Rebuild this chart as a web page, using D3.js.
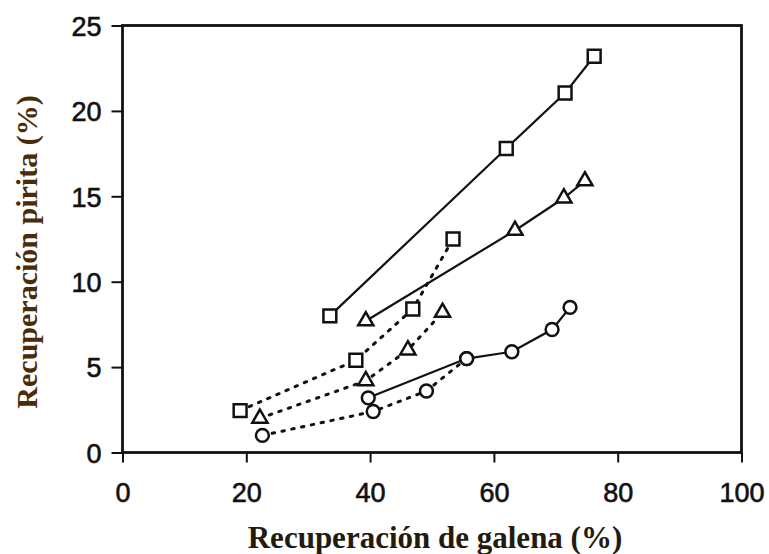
<!DOCTYPE html>
<html>
<head>
<meta charset="utf-8">
<script src="https://cdn.jsdelivr.net/npm/d3@7"></script>
<style>
  html, body { margin: 0; padding: 0; background: #fff; }
  svg { display: block; }
</style>
</head>
<body>
<svg id="chart" width="769" height="554"></svg>
<script>
// Recuperación de galena (%) vs. recuperación de pirita (%)
const xTicks = [0, 20, 40, 60, 80, 100];
const yTicks = [0, 5, 10, 15, 20, 25];

// Solid series
const squaresSolidX = [33.5, 62.0, 71.5, 76.2];
const squaresSolidY = [8.0, 17.8, 21.05, 23.2];
const trianglesSolidX = [39.3, 63.4, 71.3, 74.7];
const trianglesSolidY = [7.7, 13.0, 14.9, 15.9];
const circlesSolidX = [39.7, 55.6, 62.9, 69.4, 72.3];
const circlesSolidY = [3.2, 5.5, 5.9, 7.2, 8.5];

// Dotted series
const squaresDotX = [19.0, 37.7, 46.9, 53.4];
const squaresDotY = [2.45, 5.4, 8.4, 12.5];
const trianglesDotX = [22.2, 39.3, 46.1, 51.7];
const trianglesDotY = [2.0, 4.2, 6.0, 8.2];
const circlesDotX = [22.6, 40.5, 49.1, 55.6];
const circlesDotY = [1.0, 2.4, 3.6, 5.5];

const series = [
  { xs: squaresDotX, ys: squaresDotY, shape: "square", dotted: true },
  { xs: trianglesDotX, ys: trianglesDotY, shape: "triangle", dotted: true },
  { xs: circlesDotX, ys: circlesDotY, shape: "circle", dotted: true },
  { xs: squaresSolidX, ys: squaresSolidY, shape: "square", dotted: false },
  { xs: trianglesSolidX, ys: trianglesSolidY, shape: "triangle", dotted: false },
  { xs: circlesSolidX, ys: circlesSolidY, shape: "circle", dotted: false }
];

const svg = d3.select("#chart");
const margin = { left: 122.5, right: 27.5, top: 25.5, bottom: 101.5 };
const W = 769, H = 554;

const x = d3.scaleLinear().domain([0, 100]).range([margin.left, W - margin.right]);
const y = d3.scaleLinear().domain([0, 25]).range([H - margin.bottom, margin.top]);

const ink = "#111";

// Frame
svg.append("rect")
  .attr("x", x(0)).attr("y", y(25))
  .attr("width", x(100) - x(0)).attr("height", y(0) - y(25))
  .attr("fill", "none").attr("stroke", ink).attr("stroke-width", 2.8);

// Axes
const xAxis = svg.append("g")
  .attr("transform", `translate(0,${y(0)})`)
  .call(d3.axisBottom(x).tickValues(xTicks).tickSize(10).tickPadding(20).tickFormat(d3.format("d")));
const yAxis = svg.append("g")
  .attr("transform", `translate(${x(0)},0)`)
  .call(d3.axisLeft(y).tickValues(yTicks).tickSize(11).tickPadding(10).tickFormat(d3.format("d")));

[xAxis, yAxis].forEach(g => {
  g.select(".domain").remove();
  g.selectAll(".tick line").attr("stroke", ink).attr("stroke-width", 2);
  g.selectAll(".tick text")
    .attr("fill", ink)
    .attr("stroke", ink)
    .attr("stroke-width", 0.6)
    .style("font-family", "Liberation Sans, Arial, sans-serif")
    .style("font-size", "27px");
});
yAxis.selectAll(".tick text").attr("dy", "0.36em");

// Lines
const line = d3.line().x(d => x(d[0])).y(d => y(d[1]));
series.forEach(s => {
  const pts = s.xs.map((v, i) => [v, s.ys[i]]);
  svg.append("path")
    .datum(pts)
    .attr("d", line)
    .attr("fill", "none")
    .attr("stroke", ink)
    .attr("stroke-width", s.dotted ? 3 : 2.2)
    .attr("stroke-dasharray", s.dotted ? "2.5 7.5" : null)
    .attr("stroke-linecap", s.dotted ? "round" : "butt");
});

// Markers
const symbolFor = {
  square: d3.symbol().type(d3.symbolSquare).size(165),
  triangle: d3.symbol().type(d3.symbolTriangle).size(100),
  circle: d3.symbol().type(d3.symbolCircle).size(130)
};
series.forEach(s => {
  const pts = s.xs.map((v, i) => [v, s.ys[i]]);
  svg.append("g").selectAll("path")
    .data(pts)
    .join("path")
    .attr("transform", d => `translate(${x(d[0])},${y(d[1])})`)
    .attr("d", symbolFor[s.shape])
    .attr("fill", "#fff")
    .attr("stroke", ink)
    .attr("stroke-width", 2.5);
});

// Axis titles
svg.append("text")
  .attr("x", (x(0) + x(100)) / 2 + 3)
  .attr("y", 548)
  .attr("text-anchor", "middle")
  .attr("fill", "#231a10")
  .style("font-family", "Liberation Serif, 'Times New Roman', serif")
  .style("font-weight", "bold")
  .style("font-size", "31px")
  .text("Recuperación de galena (%)");

svg.append("text")
  .attr("transform", `translate(37,252) rotate(-90)`)
  .attr("text-anchor", "middle")
  .attr("fill", "#4a2c06")
  .style("font-family", "Liberation Serif, 'Times New Roman', serif")
  .style("font-weight", "bold")
  .style("font-size", "30px")
  .text("Recuperación pirita (%)");
</script>
</body>
</html>
